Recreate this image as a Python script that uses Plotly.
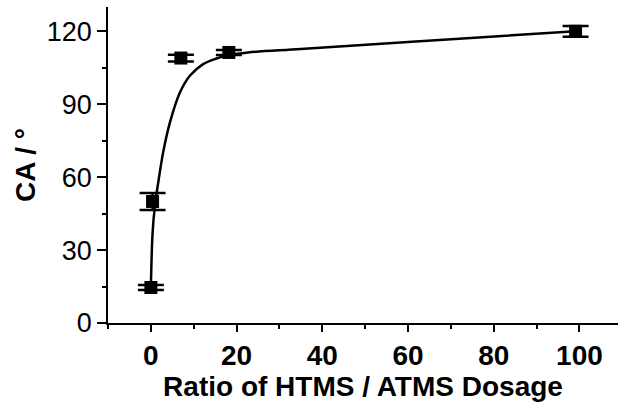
import plotly.graph_objects as go

# Data points (ratio, contact angle, error)
ratio = [0, 0.4, 7.0, 18.2, 99.1]
ca = [14.6, 50.0, 109.0, 111.3, 120.0]
ca_err = [1.0, 3.5, 1.4, 1.0, 2.2]

# Fitted curve
fit_x = [0, 0.4, 0.93, 1.94, 2.9, 4.44, 6.78, 9.1, 12.2, 15.3, 18.2, 22.7, 35, 60, 99.1]
fit_y = [14.6, 36.9, 47.9, 60.3, 70.5, 82.4, 94.8, 101.7, 106.5, 108.8, 110.2, 111.3, 112.7, 115.6, 120.0]

x_ticks = [0, 20, 40, 60, 80, 100]
y_ticks = [0, 30, 60, 90, 120]

FONT = "Liberation Sans, Arial, sans-serif"

fig = go.Figure()
fig.add_trace(go.Scatter(
    x=fit_x, y=fit_y, mode="lines",
    line=dict(color="black", width=2.5, shape="spline", smoothing=1.0),
    showlegend=False, hoverinfo="skip"))
fig.add_trace(go.Scatter(
    x=ratio, y=ca, mode="markers",
    marker=dict(symbol="square", size=13, color="black", line=dict(width=0)),
    error_y=dict(type="data", array=ca_err, visible=True, color="black",
                 thickness=2.5, width=13),
    showlegend=False))

fig.update_layout(
    width=618, height=403,
    margin=dict(l=108, r=0, t=7, b=80),
    paper_bgcolor="white", plot_bgcolor="white",
    font=dict(family=FONT, color="black"),
)
fig.update_xaxes(
    range=[-10, 109], tickvals=x_ticks, ticktext=[str(v) for v in x_ticks],
    showline=True, linecolor="black", linewidth=1.5,
    ticks="outside", ticklen=7, tickwidth=1.5, tickcolor="black",
    minor=dict(dtick=10, tick0=0, ticks="outside", ticklen=4, tickwidth=1.5, tickcolor="black"),
    showgrid=False, zeroline=False,
    tickfont=dict(size=28, family=FONT, weight="bold"),
    title=dict(text="Ratio of HTMS / ATMS Dosage", font=dict(size=28, family=FONT, weight="bold"), standoff=0),
)
fig.update_yaxes(
    range=[0, 130], tickvals=y_ticks, ticktext=[str(v) for v in y_ticks],
    showline=True, linecolor="black", linewidth=1.5,
    ticks="outside", ticklen=9, tickwidth=1.5, tickcolor="black",
    minor=dict(dtick=15, tick0=0, ticks="outside", ticklen=4, tickwidth=1.5, tickcolor="black"),
    showgrid=False, zeroline=False,
    tickfont=dict(size=27, family=FONT),
    title=dict(text="CA / °", font=dict(size=28, family=FONT, weight="bold"), standoff=3),
)

fig.write_html("out.html")
